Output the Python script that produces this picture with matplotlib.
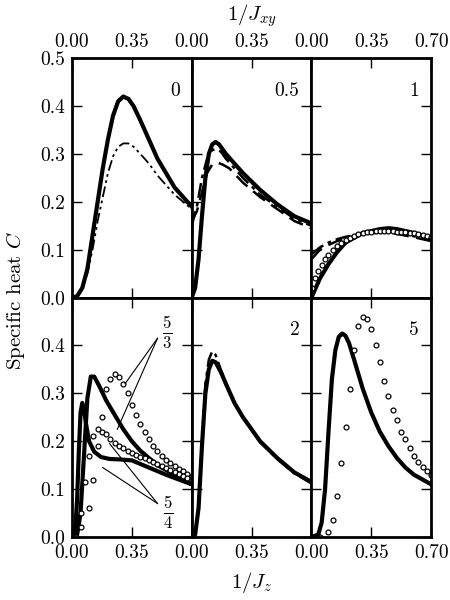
import matplotlib
matplotlib.use("Agg")
import matplotlib.pyplot as plt

plt.rcParams['mathtext.fontset'] = 'cm'
plt.rcParams['font.family'] = ['cmr10', 'DejaVu Serif']
plt.rcParams['axes.unicode_minus'] = False

# Panel "0"
p0_x = [0, 0.03, 0.06, 0.09, 0.12, 0.15, 0.18, 0.21, 0.24, 0.27, 0.3, 0.33, 0.36, 0.4, 0.45, 0.5, 0.55, 0.6, 0.65, 0.7]
p0_solid = [0, 0.003, 0.02, 0.06, 0.13, 0.2, 0.27, 0.33, 0.38, 0.41, 0.42, 0.415, 0.4, 0.37, 0.33, 0.29, 0.26, 0.23, 0.21, 0.19]
p0_dashdotdot = [0, 0.003, 0.02, 0.05, 0.1, 0.16, 0.21, 0.26, 0.295, 0.315, 0.322, 0.322, 0.315, 0.3, 0.28, 0.255, 0.235, 0.215, 0.2, 0.185]

# Panel "0.5"
p05_sx = [0, 0.02, 0.04, 0.06, 0.08, 0.1, 0.12, 0.14, 0.16, 0.2, 0.25, 0.3, 0.4, 0.5, 0.6, 0.7]
p05_solid = [0, 0.02, 0.08, 0.17, 0.25, 0.3, 0.32, 0.325, 0.32, 0.3, 0.28, 0.26, 0.225, 0.195, 0.17, 0.155]
p05_dx = [0, 0.03, 0.06, 0.09, 0.12, 0.15, 0.18, 0.22, 0.3, 0.4, 0.5, 0.6, 0.7]
p05_dashed = [0.16, 0.18, 0.22, 0.26, 0.278, 0.282, 0.278, 0.27, 0.24, 0.21, 0.185, 0.16, 0.145]
p05_ddx = [0, 0.03, 0.06, 0.09, 0.12, 0.14, 0.17, 0.2, 0.3, 0.4, 0.5, 0.6, 0.7]
p05_dashdot = [0.15, 0.19, 0.25, 0.29, 0.308, 0.31, 0.305, 0.29, 0.25, 0.215, 0.19, 0.165, 0.15]

# Panel "1"
p1_x = [0, 0.05, 0.1, 0.15, 0.2, 0.3, 0.4, 0.45, 0.5, 0.6, 0.7]
p1_solid = [0, 0.04, 0.07, 0.095, 0.115, 0.135, 0.143, 0.145, 0.143, 0.135, 0.125]
p1_dashdot = [0.09, 0.105, 0.115, 0.122, 0.127, 0.133, 0.137, 0.137, 0.135, 0.128, 0.12]
p1_dashed = [0.08, 0.1, 0.11, 0.118, 0.124, 0.132, 0.136, 0.136, 0.133, 0.126, 0.118]
p1_cx = [0.005, 0.02, 0.04, 0.06, 0.08, 0.1, 0.125, 0.15, 0.175, 0.2, 0.225, 0.25, 0.275, 0.3,
         0.325, 0.35, 0.375, 0.4, 0.425, 0.45, 0.475, 0.5, 0.525, 0.55, 0.575, 0.6, 0.625, 0.65, 0.675, 0.7]
p1_circ = [0.02, 0.04, 0.055, 0.068, 0.08, 0.09, 0.1, 0.108, 0.115, 0.12, 0.125, 0.129, 0.132, 0.135,
           0.137, 0.138, 0.139, 0.14, 0.14, 0.14, 0.139, 0.138, 0.137, 0.136, 0.135, 0.134, 0.133, 0.131, 0.129, 0.127]

# Bottom-left panel: 5/3 and 5/4
bl_53_x = [0, 0.03, 0.05, 0.07, 0.09, 0.11, 0.13, 0.16, 0.2, 0.25, 0.3, 0.35, 0.4, 0.5, 0.6, 0.7]
bl_53_solid = [0, 0.005, 0.05, 0.17, 0.29, 0.335, 0.335, 0.315, 0.285, 0.255, 0.225, 0.2, 0.18, 0.15, 0.13, 0.11]
bl_54_x = [0, 0.02, 0.03, 0.04, 0.05, 0.06, 0.07, 0.085, 0.1, 0.13, 0.17, 0.22, 0.28, 0.35, 0.45, 0.55, 0.7]
bl_54_solid = [0, 0.02, 0.08, 0.18, 0.26, 0.28, 0.265, 0.23, 0.2, 0.178, 0.167, 0.163, 0.162, 0.16, 0.145, 0.13, 0.11]
bl_53_cx = [0.05, 0.1, 0.125, 0.15, 0.175, 0.2, 0.225, 0.25, 0.275, 0.3, 0.325, 0.35, 0.375, 0.4, 0.425,
            0.45, 0.475, 0.5, 0.525, 0.55, 0.575, 0.6, 0.625, 0.65, 0.675, 0.7]
bl_53_circ = [0.02, 0.06, 0.12, 0.19, 0.25, 0.31, 0.33, 0.34, 0.335, 0.32, 0.3, 0.275, 0.255, 0.235, 0.22,
              0.205, 0.19, 0.18, 0.17, 0.16, 0.155, 0.148, 0.142, 0.137, 0.132, 0.128]
bl_54_cx = [0.025, 0.05, 0.075, 0.1, 0.125, 0.15, 0.175, 0.2, 0.225, 0.25, 0.275, 0.3, 0.325, 0.35, 0.375,
            0.4, 0.425, 0.45, 0.475, 0.5, 0.525, 0.55, 0.575, 0.6, 0.625, 0.65, 0.675, 0.7]
bl_54_circ = [0.0, 0.05, 0.114, 0.17, 0.21, 0.225, 0.22, 0.215, 0.205, 0.197, 0.19, 0.185, 0.18, 0.176, 0.172,
              0.168, 0.165, 0.16, 0.156, 0.152, 0.148, 0.144, 0.14, 0.136, 0.132, 0.128, 0.124, 0.12]

# Panel "2"
p2_x = [0, 0.02, 0.04, 0.06, 0.08, 0.1, 0.12, 0.14, 0.17, 0.2, 0.25, 0.3, 0.4, 0.5, 0.6, 0.7]
p2_solid = [0, 0.005, 0.06, 0.19, 0.3, 0.35, 0.368, 0.365, 0.345, 0.32, 0.28, 0.25, 0.2, 0.165, 0.135, 0.115]
p2_dashdot = [0, 0.005, 0.065, 0.2, 0.32, 0.37, 0.388, 0.38, 0.35, 0.322, 0.28, 0.25, 0.198, 0.163, 0.133, 0.112]

# Panel "5"
p5_x = [0, 0.04, 0.06, 0.08, 0.1, 0.12, 0.14, 0.16, 0.18, 0.2, 0.22, 0.25, 0.3, 0.35, 0.4, 0.45, 0.5, 0.55, 0.6, 0.65, 0.7]
p5_solid = [0, 0.005, 0.03, 0.1, 0.22, 0.33, 0.39, 0.418, 0.425, 0.42, 0.405, 0.37, 0.31, 0.26, 0.22, 0.19, 0.165, 0.145, 0.13, 0.12, 0.11]
p5_cx = [0.05, 0.1, 0.125, 0.15, 0.175, 0.2, 0.225, 0.25, 0.275, 0.3, 0.325, 0.35, 0.375, 0.4, 0.425,
         0.45, 0.475, 0.5, 0.525, 0.55, 0.575, 0.6, 0.625, 0.65, 0.675, 0.7]
p5_circ = [0, 0.01, 0.035, 0.085, 0.155, 0.23, 0.31, 0.39, 0.44, 0.46, 0.455, 0.435, 0.4, 0.365, 0.325,
           0.295, 0.265, 0.245, 0.22, 0.205, 0.185, 0.17, 0.157, 0.147, 0.137, 0.13]

labels = ["0", "0.5", "1", "", "2", "5"]

fig, axes = plt.subplots(2, 3, figsize=(4.5, 6), dpi=100)
fig.subplots_adjust(left=0.16, right=0.958, top=0.903, bottom=0.105, wspace=0, hspace=0)

lw = 3
circ = dict(ls='none', marker='o', ms=3.5, mfc='white', mec='black', mew=0.9)
dd = [6, 2, 1.5, 2]

ax = axes[0, 0]
ax.plot(p0_x, p0_solid, 'k-', lw=lw)
ax.plot(p0_x, p0_dashdotdot, 'k', lw=1.3, dashes=[6, 2, 1.5, 2, 1.5, 2])

ax = axes[0, 1]
ax.plot(p05_sx, p05_solid, 'k-', lw=lw)
ax.plot(p05_dx, p05_dashed, 'k', lw=1.8, dashes=[6, 3])
ax.plot(p05_ddx, p05_dashdot, 'k', lw=1.8, dashes=dd)

ax = axes[0, 2]
ax.plot(p1_x, p1_solid, 'k-', lw=lw)
ax.plot(p1_x, p1_dashdot, 'k', lw=1.8, dashes=dd)
ax.plot(p1_x, p1_dashed, 'k', lw=1.8, dashes=[6, 3])
ax.plot(p1_cx, p1_circ, **circ)

ax = axes[1, 0]
ax.plot(bl_53_x, bl_53_solid, 'k-', lw=lw)
ax.plot(bl_54_x, bl_54_solid, 'k-', lw=lw)
ax.plot(bl_53_cx, bl_53_circ, **circ)
ax.plot(bl_54_cx, bl_54_circ, **circ)
ax.text(0.555, 0.427, r"$\frac{5}{3}$", fontsize=17, ha='center', va='center')
ax.text(0.56, 0.05, r"$\frac{5}{4}$", fontsize=17, ha='center', va='center')
for (x, y) in [(0.31, 0.32), (0.265, 0.225)]:
    ax.plot([0.5, x], [0.415, y], 'k-', lw=0.8)
for (x, y) in [(0.22, 0.195), (0.18, 0.145)]:
    ax.plot([0.5, x], [0.07, y], 'k-', lw=0.8)

ax = axes[1, 1]
ax.plot(p2_x, p2_dashdot, 'k', lw=1.8, dashes=dd)
ax.plot(p2_x, p2_solid, 'k-', lw=lw)

ax = axes[1, 2]
ax.plot(p5_x, p5_solid, 'k-', lw=lw)
ax.plot(p5_cx, p5_circ, **circ)

for i in range(2):
    for j in range(3):
        ax = axes[i, j]
        ax.set_xlim(0, 0.7)
        ax.set_ylim(0, 0.5)
        ax.set_xticks([0, 0.35, 0.7])
        ax.set_yticks([0, 0.1, 0.2, 0.3, 0.4, 0.5])
        for s in ax.spines.values():
            s.set_linewidth(2)
        ax.tick_params(direction='in', length=7, width=1, top=True, right=True,
                       labelsize=14, labelbottom=(i == 1), labeltop=(i == 0),
                       labelleft=(j == 0), pad=5)
        if labels[i * 3 + j]:
            ax.text(0.9, 0.9, labels[i * 3 + j], transform=ax.transAxes,
                    fontsize=14, ha='right', va='top')
        xl = ['0.00', '0.35', '0.70'] if j == 2 else ['0.00', '0.35', '']
        ax.set_xticklabels(xl)
        ax.set_yticklabels(['0.0', '0.1', '0.2', '0.3', '0.4', '0.5' if i == 0 else ''])

axes[0, 1].set_title(r"$1/J_{xy}$", fontsize=15, pad=27)
axes[1, 1].set_xlabel(r"$1/J_z$", fontsize=15, labelpad=6)
fig.text(0.035, 0.5, r"Specific heat $C$", rotation=90, fontsize=15, ha='center', va='center')

fig.savefig("out.png", dpi=100)
